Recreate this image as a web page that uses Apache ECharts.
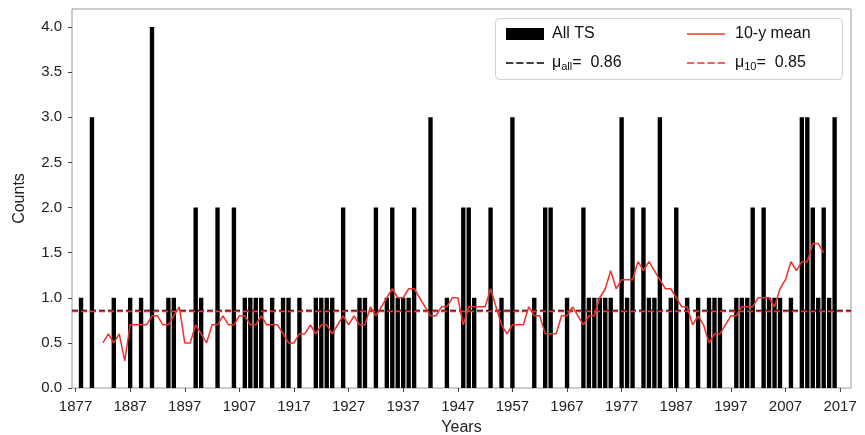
<!DOCTYPE html>
<html>
<head>
<meta charset="utf-8">
<script src="https://cdn.jsdelivr.net/npm/echarts@6/dist/echarts.min.js"></script>
<style>
  html, body { margin: 0; padding: 0; background: #fff; }
  #chart { width: 865px; height: 435px; }
</style>
</head>
<body>
<div id="chart"></div>
<script>
// ---- data ----
var barYears = [1878,1880,1884,1887,1889,1891,1894,1895,1899,1900,1903,1906,1908,1909,1910,1911,1913,1915,1916,1918,
  1921,1922,1923,1924,1926,1929,1930,1932,1934,1935,1936,1937,1938,1939,1942,1945,1948,1949,1950,1953,
  1955,1957,1961,1963,1964,1967,1970,1971,1972,1973,1974,1975,1977,1978,1979,1981,1982,1983,1984,1986,
  1987,1989,1991,1993,1994,1995,1998,1999,2000,2001,2003,2004,2005,2006,2008,2010,2011,2012,2013,2014,
  2015,2016];
var barCounts = [1,3,1,1,1,4,1,1,2,1,2,2,1,1,1,1,1,1,1,1,
  1,1,1,1,2,1,1,2,1,2,1,1,1,2,3,1,2,2,1,2,
  1,3,1,2,2,1,2,1,1,1,1,1,3,1,2,2,1,1,3,1,
  2,1,1,1,1,1,1,1,1,2,2,1,1,1,1,3,3,2,1,2,
  1,3];
var meanYears = [];
for (var y = 1882; y <= 2014; y++) meanYears.push(y);
var meanValues = [0.5,0.6,0.5,0.6,0.3,0.7,0.7,0.7,0.7,0.8,   // 1882-1891
  0.8,0.7,0.7,0.8,0.9,0.5,0.5,0.7,0.6,0.5,                    // 1892-1901
  0.7,0.7,0.8,0.7,0.7,0.8,0.8,0.7,0.7,0.8,                    // 1902-1911
  0.7,0.7,0.7,0.6,0.5,0.5,0.6,0.6,0.7,0.6,                    // 1912-1921
  0.7,0.7,0.6,0.7,0.8,0.7,0.8,0.7,0.7,0.9,                    // 1922-1931
  0.8,0.9,1.0,1.1,1.0,1.0,1.1,1.1,1.0,0.9,                    // 1932-1941
  0.8,0.8,0.9,0.9,1.0,1.0,0.7,0.9,0.9,0.9,                    // 1942-1951
  0.9,1.1,0.9,0.7,0.6,0.7,0.7,0.7,0.9,0.8,                    // 1952-1961
  0.8,0.6,0.6,0.6,0.8,0.8,0.9,0.8,0.7,0.8,                    // 1962-1971
  0.8,1.0,1.1,1.3,1.1,1.2,1.2,1.2,1.4,1.3,                    // 1972-1981
  1.4,1.3,1.2,1.1,1.1,1.0,0.9,0.9,0.7,0.8,                    // 1982-1991
  0.7,0.5,0.6,0.6,0.7,0.8,0.8,0.9,0.9,0.9,                    // 1992-2001
  1.0,1.0,1.0,0.9,1.1,1.2,1.4,1.3,1.4,1.4,                    // 2002-2011
  1.6,1.6,1.5];                                               // 2012-2014
var muAll = 0.86;
var mu10 = 0.85;
var xTicks = [1877,1887,1897,1907,1917,1927,1937,1947,1957,1967,1977,1987,1997,2007,2017];
var yTicks = [0,0.5,1.0,1.5,2.0,2.5,3.0,3.5,4.0];
var xMin = 1876.35, xMax = 2019.0, yMin = 0, yMax = 4.2;

// ---- build ----
var barData = barYears.map(function (yr, i) { return [yr, barCounts[i]]; });
var meanData = meanYears.map(function (yr, i) { return [yr, meanValues[i]]; });
var muAllData = [[xMin, muAll], [xMax, muAll]];
var mu10Data = [[xMin, mu10], [xMax, mu10]];

var FONT = 'Liberation Sans, Arial, sans-serif';
var RED = '#f2302a';
var ICON_SOLID = 'path://M0,0M38,12M0,5.25h38v1.5h-38z';
var ICON_DASH = 'path://M0,0M38,12M0,5.25h7.25v1.5h-7.25zM10.25,5.25h7.25v1.5h-7.25zM20.5,5.25h7.25v1.5h-7.25zM30.75,5.25h7.25v1.5h-7.25z';

var chart = echarts.init(document.getElementById('chart'), null, { renderer: 'canvas' });

var legendRich = {
  a: { fontSize: 16, fontFamily: FONT, color: '#111' },
  s: { fontSize: 11, fontFamily: FONT, color: '#111', padding: [7, 0, 0, 0] }
};
function legendFmt(name) {
  if (name === 'mu_all') return '{a|μ}{s|all}{a|=  ' + muAll.toFixed(2) + '}';
  if (name === 'mu_10') return '{a|μ}{s|10}{a|=  ' + mu10.toFixed(2) + '}';
  return '{a|' + name + '}';
}

chart.setOption({
  animation: false,
  backgroundColor: '#fff',
  grid: { left: 72, right: 14, top: 9, bottom: 47, show: true, borderColor: '#9a9a9a', borderWidth: 1,
    containLabel: false, outerBoundsMode: 'none' },
  graphic: [{
    type: 'rect', z: 100, left: 495, top: 18,
    shape: { width: 347, height: 61, r: 4 },
    style: { fill: 'rgba(255,255,255,0.85)', stroke: '#d0d0d0', lineWidth: 1 }
  }],
  legend: [{
    orient: 'vertical', left: 501, top: 20, z: 110,
    itemWidth: 38, itemHeight: 12, itemGap: 11, symbolKeepAspect: false,
    data: [
      { name: 'All TS', icon: 'rect' },
      { name: 'mu_all', icon: ICON_DASH }
    ],
    formatter: legendFmt,
    textStyle: { rich: legendRich, padding: [0, 0, 0, 3], fontSize: 16, lineHeight: 18 },
    selectedMode: false
  }, {
    orient: 'vertical', left: 682, top: 20, z: 110,
    itemWidth: 38, itemHeight: 12, itemGap: 11, symbolKeepAspect: false,
    data: [{ name: '10-y mean', icon: ICON_SOLID }, { name: 'mu_10', icon: ICON_DASH }],
    formatter: legendFmt,
    textStyle: { rich: legendRich, padding: [0, 0, 0, 5], fontSize: 16, lineHeight: 18 },
    selectedMode: false
  }],
  xAxis: {
    type: 'value', min: xMin, max: xMax,
    name: 'Years', nameLocation: 'middle', nameGap: 32,
    nameTextStyle: { fontSize: 16, fontFamily: FONT, color: '#222' },
    axisLine: { show: false },
    axisTick: { show: true, length: 4, lineStyle: { color: '#444' }, customValues: xTicks },
    axisLabel: { fontSize: 15, fontFamily: FONT, color: '#222', margin: 11, customValues: xTicks,
      formatter: function (v) { return String(Math.round(v)); } },
    splitLine: { show: false }
  },
  yAxis: {
    type: 'value', min: yMin, max: yMax,
    name: 'Counts', nameLocation: 'middle', nameGap: 44, nameRotate: 90,
    nameTextStyle: { fontSize: 16, fontFamily: FONT, color: '#222' },
    axisLine: { show: false },
    axisTick: { show: true, length: 4, lineStyle: { color: '#444' }, customValues: yTicks },
    axisLabel: { fontSize: 15, fontFamily: FONT, color: '#222', margin: 10, customValues: yTicks,
      formatter: function (v) { return v.toFixed(1); } },
    splitLine: { show: false }
  },
  series: [{
    name: 'All TS', type: 'bar', data: barData, barWidth: '80%',
    itemStyle: { color: '#000' }, z: 2
  }, {
    name: 'mu_all', type: 'line', data: muAllData, symbol: 'none',
    lineStyle: { color: '#000', width: 1.5, type: [6, 3] }, itemStyle: { color: '#000' }, z: 3
  }, {
    name: 'mu_10', type: 'line', data: mu10Data, symbol: 'none',
    lineStyle: { color: RED, width: 1.8, type: [6, 3] }, itemStyle: { color: RED }, z: 4
  }, {
    name: '10-y mean', type: 'line', data: meanData, symbol: 'none',
    lineStyle: { color: RED, width: 1.5 }, itemStyle: { color: RED }, z: 5
  }]
});
</script>
</body>
</html>
